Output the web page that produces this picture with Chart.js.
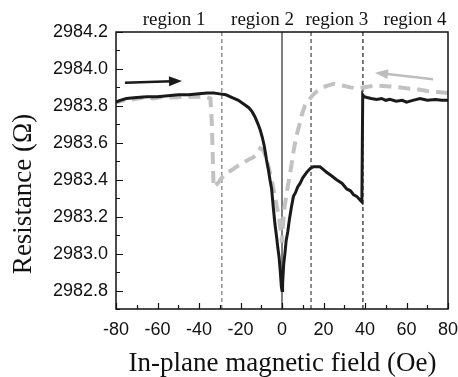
<!DOCTYPE html>
<html>
<head>
<meta charset="utf-8">
<script src="https://cdn.jsdelivr.net/npm/chart.js@4/dist/chart.umd.min.js"></script>
<style>
  html, body { margin: 0; padding: 0; background: #fff; }
  #wrap { width: 458px; height: 377px; }
</style>
</head>
<body>
<div id="wrap"><canvas id="chart" width="458" height="377"></canvas></div>
<script>
// sweep up (black), -80 -> 80 Oe
const upField = [-80, -78, -75, -70, -65, -60, -55, -50, -45, -40, -36, -33, -30, -27, -24, -21, -18.5, -16, -14.5, -13, -11.5, -10.5, -9.5, -8.5, -7.5, -6.5, -5.8, -5, -4.2, -3.4, -2.6, -2, -1.4, -0.8, -0.3, 0, 0.3, 0.8, 1.4, 2, 2.8, 3.5, 4.5, 5.5, 6.5, 7.5, 8.7, 10, 11.9, 13.5, 15.1, 16.8, 18.3, 20, 21.5, 24, 26.3, 29, 31.2, 33, 34.4, 36, 37.6, 38.5, 38.9, 39.5, 41, 43, 45.6, 48, 50, 52, 55, 58, 60, 63, 66.5, 70, 74, 77, 80];
const upRes = [2983.82, 2983.83, 2983.84, 2983.845, 2983.85, 2983.85, 2983.855, 2983.86, 2983.86, 2983.865, 2983.87, 2983.87, 2983.865, 2983.86, 2983.845, 2983.83, 2983.81, 2983.79, 2983.77, 2983.74, 2983.70, 2983.67, 2983.63, 2983.58, 2983.51, 2983.45, 2983.40, 2983.35, 2983.25, 2983.16, 2983.09, 2983.03, 2982.98, 2982.90, 2982.82, 2982.80, 2982.84, 2982.94, 2983.00, 2983.07, 2983.12, 2983.18, 2983.25, 2983.31, 2983.33, 2983.36, 2983.38, 2983.41, 2983.44, 2983.46, 2983.47, 2983.47, 2983.47, 2983.455, 2983.44, 2983.42, 2983.40, 2983.38, 2983.35, 2983.34, 2983.32, 2983.31, 2983.29, 2983.28, 2983.86, 2983.85, 2983.845, 2983.84, 2983.835, 2983.84, 2983.83, 2983.835, 2983.825, 2983.83, 2983.82, 2983.83, 2983.84, 2983.83, 2983.835, 2983.83, 2983.83];

// sweep down (grey dashed), 80 -> -80 Oe
const downField = [80, 75, 70, 65, 60, 57, 52, 46, 42, 39, 36, 33, 29, 25, 22, 19.5, 17, 15, 13.5, 12, 11, 9.5, 8.7, 7.5, 6.3, 5.5, 4.7, 3.5, 2.3, 1.2, 0.4, 0, -0.6, -1.5, -2.6, -3.8, -5, -6.5, -8, -9, -10.5, -12, -14, -16, -19, -22, -24.5, -26.6, -29, -31, -33, -33.3, -33.8, -34.5, -37, -42, -47, -52, -57, -62, -67, -72, -76, -80];
const downRes = [2983.87, 2983.875, 2983.88, 2983.89, 2983.895, 2983.90, 2983.905, 2983.91, 2983.905, 2983.90, 2983.895, 2983.90, 2983.91, 2983.92, 2983.91, 2983.90, 2983.88, 2983.86, 2983.84, 2983.82, 2983.80, 2983.75, 2983.71, 2983.66, 2983.60, 2983.55, 2983.49, 2983.41, 2983.33, 2983.25, 2983.15, 2983.06, 2983.12, 2983.20, 2983.26, 2983.33, 2983.40, 2983.47, 2983.53, 2983.56, 2983.57, 2983.54, 2983.52, 2983.51, 2983.49, 2983.47, 2983.45, 2983.44, 2983.41, 2983.38, 2983.36, 2983.50, 2983.70, 2983.84, 2983.85, 2983.85, 2983.85, 2983.845, 2983.85, 2983.84, 2983.845, 2983.835, 2983.83, 2983.82];

const xMin = -80, xMax = 80;
const yMin = 2982.7, yMax = 2984.2;
const xTicks = [-80, -60, -40, -20, 0, 20, 40, 60, 80];
const yTicks = [2982.8, 2983.0, 2983.2, 2983.4, 2983.6, 2983.8, 2984.0, 2984.2];

const regionBounds = [-29, 0, 14, 39];
const regionLabels = ["region 1", "region 2", "region 3", "region 4"];
const regionLabelAt = [-52, -9.4, 26.4, 64.1];

// sweep-direction arrows: [tail, head]
const upArrow = [[-75.7, 2983.925], [-48.2, 2983.935]];
const downArrow = [[72.8, 2983.944], [44.8, 2983.98]];

const toPts = (xs, ys) => xs.map((x, i) => ({x, y: ys[i]}));

const boundStyles = [
  {color: "#777", dash: [4, 3], width: 1.2},
  {color: "#555", dash: [], width: 1.5},
  {color: "#444", dash: [4, 3], width: 1.2},
  {color: "#222", dash: [4, 3], width: 1.2},
];

const boundSets = regionBounds.map((b, i) => ({
  data: [{x: b, y: yMin}, {x: b, y: yMax}],
  borderColor: boundStyles[i].color,
  borderWidth: boundStyles[i].width,
  borderDash: boundStyles[i].dash,
  pointRadius: 0,
  order: 3,
}));

const decor = {
  id: "decor",
  afterDraw(chart) {
    const {ctx, chartArea: a, scales: {x, y}} = chart;
    ctx.save();
    // frame
    ctx.strokeStyle = "#111";
    ctx.lineWidth = 1.5;
    ctx.strokeRect(a.left, a.top, a.right - a.left, a.bottom - a.top);
    // inward ticks
    ctx.lineWidth = 1.2;
    ctx.beginPath();
    for (let v = xMin; v <= xMax; v += 10) {
      const px = Math.round(x.getPixelForValue(v)) + 0.5;
      const len = v % 20 === 0 ? 6 : 4;
      ctx.moveTo(px, a.bottom);
      ctx.lineTo(px, a.bottom - len);
    }
    for (let k = 0; k <= 15; k++) {
      const v = yMin + k * 0.1;
      const py = Math.round(y.getPixelForValue(v)) + 0.5;
      const len = k % 2 === 1 ? 7 : 4;
      ctx.moveTo(a.left, py);
      ctx.lineTo(a.left + len, py);
    }
    ctx.stroke();

    // arrows
    const arrow = (pts, color) => {
      const x0 = x.getPixelForValue(pts[0][0]), y0 = y.getPixelForValue(pts[0][1]);
      const x1 = x.getPixelForValue(pts[1][0]), y1 = y.getPixelForValue(pts[1][1]);
      const ang = Math.atan2(y1 - y0, x1 - x0);
      const hl = 13, hw = 5;
      ctx.strokeStyle = color;
      ctx.fillStyle = color;
      ctx.lineWidth = 2.5;
      ctx.beginPath();
      ctx.moveTo(x0, y0);
      ctx.lineTo(x1 - hl * 0.8 * Math.cos(ang), y1 - hl * 0.8 * Math.sin(ang));
      ctx.stroke();
      ctx.beginPath();
      ctx.moveTo(x1, y1);
      ctx.lineTo(x1 - hl * Math.cos(ang) + hw * Math.sin(ang), y1 - hl * Math.sin(ang) - hw * Math.cos(ang));
      ctx.lineTo(x1 - hl * Math.cos(ang) - hw * Math.sin(ang), y1 - hl * Math.sin(ang) + hw * Math.cos(ang));
      ctx.closePath();
      ctx.fill();
    };
    arrow(upArrow, "#1a1a1a");
    arrow(downArrow, "#bdbdbd");

    // region labels
    ctx.fillStyle = "#111";
    ctx.font = "19px 'Liberation Serif', serif";
    ctx.textAlign = "center";
    ctx.textBaseline = "alphabetic";
    regionLabels.forEach((t, i) => ctx.fillText(t, x.getPixelForValue(regionLabelAt[i]), 25));

    // axis titles
    ctx.font = "27px 'Liberation Serif', serif";
    ctx.fillText("In-plane magnetic field (Oe)", 282.5, 371);
    ctx.translate(31, 194);
    ctx.rotate(-Math.PI / 2);
    ctx.fillText("Resistance (\u03A9)", 0, 0);
    ctx.restore();
  }
};

const config = {
  type: "line",
  data: {
    datasets: [
      {
        label: "up",
        data: toPts(upField, upRes),
        borderColor: "#1a1a1a",
        borderWidth: 3,
        pointRadius: 0,
        tension: 0,
        order: 1,
      },
      {
        label: "down",
        data: toPts(downField, downRes),
        borderColor: "#c2c2c2",
        borderWidth: 4,
        borderDash: [12, 7],
        pointRadius: 0,
        tension: 0,
        order: 2,
      },
      ...boundSets,
    ],
  },
  options: {
    responsive: false,
    animation: false,
    layout: {padding: {left: 0, right: 0, top: 32, bottom: 0}},
    plugins: {legend: {display: false}, tooltip: {enabled: false}},
    scales: {
      x: {
        type: "linear",
        min: xMin,
        max: xMax,
        afterBuildTicks: (s) => { s.ticks = xTicks.map((v) => ({value: v})); },
        afterFit: (s) => { s.height = 68; s.paddingRight = 10; s.paddingLeft = 0; },
        grid: {display: false, drawTicks: false},
        border: {display: false},
        ticks: {
          padding: 10,
          maxRotation: 0,
          color: "#111",
          font: {family: "'Liberation Sans', Arial, sans-serif", size: 18},
        },
      },
      y: {
        type: "linear",
        min: yMin,
        max: yMax,
        afterBuildTicks: (s) => { s.ticks = yTicks.map((v) => ({value: v})); },
        afterFit: (s) => { s.width = 116; s.paddingTop = 0; s.paddingBottom = 0; },
        grid: {display: false, drawTicks: false},
        border: {display: false},
        ticks: {
          padding: 8,
          color: "#111",
          font: {family: "'Liberation Sans', Arial, sans-serif", size: 18},
          callback: (v) => Number(v).toFixed(1),
        },
      },
    },
  },
  plugins: [decor],
};

window.onload = function () {
  const ctx = document.getElementById("chart").getContext("2d");
  window.chart = new Chart(ctx, config);
};
</script>
</body>
</html>
